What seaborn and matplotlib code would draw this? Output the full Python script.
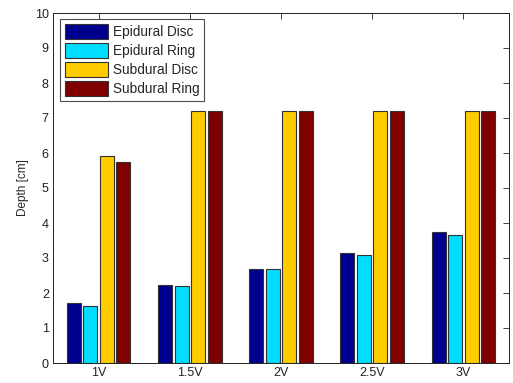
import matplotlib
matplotlib.use("Agg")
import matplotlib.pyplot as plt
import pandas as pd
import seaborn as sns

# values
voltages = ["1V", "1.5V", "2V", "2.5V", "3V"]
series = ["Epidural Disc", "Epidural Ring", "Subdural Disc", "Subdural Ring"]
epidural_disc = [1.71, 2.23, 2.69, 3.13, 3.75]
epidural_ring = [1.64, 2.20, 2.69, 3.08, 3.67]
subdural_disc = [5.91, 7.20, 7.20, 7.20, 7.20]
subdural_ring = [5.75, 7.20, 7.20, 7.20, 7.20]
colors = ["#00008F", "#00DDFF", "#FFCC00", "#800000"]


def build_frame():
    rows = []
    for name, vals in zip(series, [epidural_disc, epidural_ring, subdural_disc, subdural_ring]):
        for v, d in zip(voltages, vals):
            rows.append({"Voltage": v, "Electrode": name, "Depth": d})
    return pd.DataFrame(rows)


def main():
    sns.set_style("white")
    plt.rcParams["font.family"] = ["Liberation Sans", "DejaVu Sans"]
    df = build_frame()

    fig = plt.figure(figsize=(5.13, 3.83), dpi=100)
    ax = fig.add_axes([53 / 513, 20 / 383, 456 / 513, 350 / 383])

    sns.barplot(data=df, x="Voltage", y="Depth", hue="Electrode", order=voltages,
                hue_order=series, palette=colors, width=0.724, gap=0.155,
                edgecolor="#333333", linewidth=0.8, saturation=1, ax=ax)

    ax.set_xlim(-0.5, 4.5)
    ax.set_ylim(0, 10)
    ax.set_yticks(range(0, 11))
    ax.set_xlabel("")
    ax.set_ylabel("Depth [cm]", fontsize=8.5)
    ax.tick_params(direction="in", length=4, width=0.6, labelsize=9,
                   top=True, right=True, colors="#222222", pad=3)
    for s in ax.spines.values():
        s.set_visible(True)
        s.set_color("#222222")
        s.set_linewidth(0.7)

    leg = ax.legend(loc="upper left", bbox_to_anchor=(0.01, 0.99), fontsize=9.8,
                    frameon=True, fancybox=False, edgecolor="#222222",
                    handlelength=3.15, handleheight=1.3, labelspacing=0.3,
                    borderpad=0.35, handletextpad=0.35, borderaxespad=0.2)
    leg.get_frame().set_linewidth(0.8)

    fig.savefig("out.png", dpi=100)
    plt.close(fig)


if __name__ == "__main__":
    main()
